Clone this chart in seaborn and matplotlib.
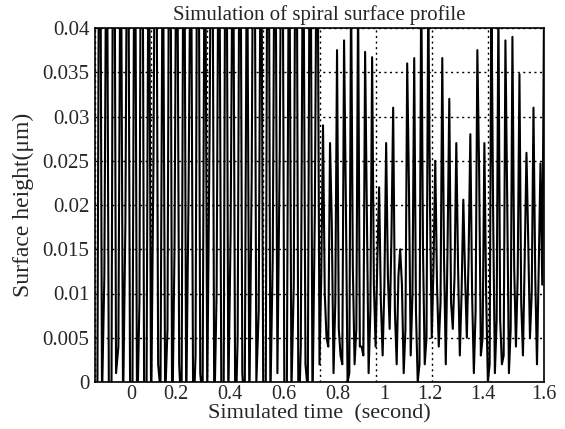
import numpy as np
import pandas as pd
import matplotlib
matplotlib.use("Agg")
import matplotlib.pyplot as plt
import seaborn as sns

# ---- data (values beyond 0..0.04 are clipped by the axes) ----
# first part (0 - 0.8 s): each cycle sampled as base, shoulder, peak
base_a = [-0.004, -0.002, -0.006, 0.001, -0.003, -0.001, -0.005, -0.001, -0.004, 0.002,
          -0.002, -0.006, 0.002, -0.003, -0.005, 0.001, -0.001, -0.004, 0.000, -0.002,
          -0.006, 0.001, -0.003, 0.000, -0.005, -0.002, 0.001, -0.004, -0.001, -0.006,
          0.002, -0.003]
shoulder_a = [-0.003, 0.012, -0.005, 0.004, 0.018, -0.002, 0.009, -0.003, 0.025, -0.001,
              0.006, 0.015, -0.004, 0.021, 0.003, -0.002, 0.028, 0.010, -0.003, 0.017,
              0.005, -0.004, 0.023, 0.008, -0.002, 0.014, 0.026, -0.003, 0.011, 0.004,
              -0.001, 0.019]
peaks_a = [0.075, 0.062, 0.081, 0.058, 0.070, 0.066, 0.084, 0.060, 0.072, 0.055,
           0.078, 0.064, 0.069, 0.057, 0.080, 0.061, 0.071, 0.063, 0.076, 0.059,
           0.068, 0.056, 0.074, 0.061, 0.079, 0.065, 0.070, 0.058, 0.073, 0.058,
           0.067, 0.062]

# second part (0.8 - 1.6 s): each cycle sampled as base, rise, peak, fall
base_b = [0.002, 0.005, 0.001, 0.003, 0.000, 0.002, 0.004, 0.001, 0.004, 0.003,
          0.006, 0.002, 0.001, 0.003, 0.000, 0.002, 0.005, 0.004, 0.002, 0.006,
          0.003, 0.005, 0.001, 0.003, 0.000, 0.001, 0.002, 0.001, 0.004, 0.003,
          0.005, 0.002]
rise_b = [0.012, 0.004, 0.009, 0.002, 0.001, 0.006, 0.003, 0.008, 0.014, 0.011,
          0.016, 0.012, 0.006, 0.010, 0.002, 0.005, 0.013, 0.009, 0.015, 0.012,
          0.010, 0.014, 0.008, 0.005, 0.002, 0.007, 0.003, 0.006, 0.012, 0.014,
          0.010, 0.013]
peaks_b = [0.029, 0.027, 0.0375, 0.0386, 0.045, 0.044, 0.0373, 0.0367, 0.022, 0.027,
           0.031, 0.015, 0.036, 0.0366, 0.046, 0.044, 0.025, 0.0366, 0.032, 0.027,
           0.0206, 0.028, 0.0375, 0.027, 0.045, 0.043, 0.0386, 0.039, 0.0348, 0.0259,
           0.031, 0.0247]
fall_b = [0.010, 0.018, 0.006, 0.021, 0.013, 0.004, 0.019, 0.011, 0.009, 0.012,
          0.008, 0.011, 0.022, 0.008, 0.015, 0.020, 0.011, 0.014, 0.009, 0.013,
          0.012, 0.010, 0.024, 0.010, 0.019, 0.007, 0.021, 0.013, 0.009, 0.016,
          0.012, 0.011]
last_value = 0.042

t_start, t_mid, t_end = 0.0, 0.8, 1.6
grid_ticks = [0.0, 0.2, 0.4, 0.6, 0.8, 1.0, 1.2, 1.4, 1.6]
x_label_pos = [0.128, 0.289, 0.481, 0.674, 0.866, 1.03, 1.194, 1.383, 1.6]
x_labels = ["0", "0.2", "0.4", "0.6", "0.8", "1", "1.2", "1.4", "1.6"]
y_ticks = [0, 0.005, 0.01, 0.015, 0.02, 0.025, 0.03, 0.035, 0.04]
y_labels = ["0", "0.005", "0.01", "0.015", "0.02", "0.025", "0.03", "0.035", "0.04"]

h_a = []
for b, s, p in zip(base_a, shoulder_a, peaks_a):
    h_a += [b, s, p]
h_b = []
for b, r, p, f in zip(base_b, rise_b, peaks_b, fall_b):
    h_b += [b, r, p, f]
h_b.append(last_value)
t_a = np.linspace(t_start, t_mid, len(h_a), endpoint=False)
t_b = np.linspace(t_mid, t_end, len(h_b))
df = pd.DataFrame({"time": np.concatenate([t_a, t_b]), "height": h_a + h_b})

# ---- figure ----
sns.set_style("white")
plt.rcParams["font.family"] = ["Liberation Serif", "DejaVu Serif"]

fig = plt.figure(figsize=(5.65, 4.29), dpi=100)
ax = fig.add_axes([95 / 565, 1 - 382 / 429, 449 / 565, 354 / 429])

sns.lineplot(data=df, x="time", y="height", ax=ax, color="black",
             linewidth=1.5, estimator=None, sort=False)

ax.set_xlim(t_start, t_end)
ax.set_ylim(0, 0.04)

ax.set_xticks(grid_ticks, minor=True)
ax.set_yticks(y_ticks, y_labels)
ax.set_xticks(x_label_pos, x_labels)
ax.grid(False)
ax.grid(True, which="minor", axis="x", linestyle=(0, (1.5, 2.5)), color="black", linewidth=1.0)
ax.grid(True, which="major", axis="y", linestyle=(0, (1.5, 2.5)), color="black", linewidth=1.0)
ax.set_axisbelow(False)

ax.tick_params(axis="x", which="major", length=0, labelsize=14.5, pad=2)
ax.tick_params(axis="x", which="minor", length=0)
ax.tick_params(axis="y", length=0, labelsize=15, pad=4)

for s in ax.spines.values():
    s.set_color("black")
    s.set_linewidth(1.2)

ax.set_title("Simulation of spiral surface profile", fontsize=15, pad=6)
ax.set_xlabel("Simulated time  (second)", fontsize=16, labelpad=0)
ax.set_ylabel("Surface height(\u03bcm)", fontsize=17, labelpad=6)

fig.savefig("out.png", dpi=100)
